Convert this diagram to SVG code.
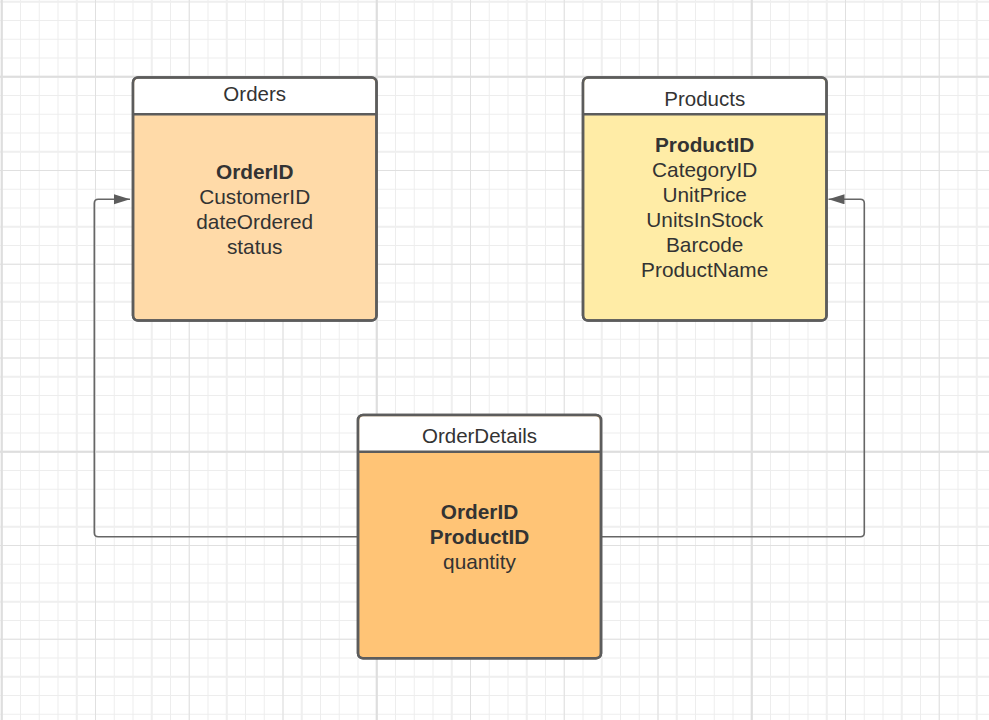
<svg xmlns="http://www.w3.org/2000/svg" width="989" height="720" viewBox="0 0 989 720">
  <style>
    .box { stroke: #5c5c5c; stroke-width: 2.5; }
    .div { stroke: #5c5c5c; stroke-width: 2.5; fill: none; }
    .hdr { fill: #ffffff; }
    text { font-family: "Liberation Sans", Arial, sans-serif; font-size: 20.8px; fill: #333333; text-anchor: middle; }
    .h { font-size: 20.5px; }
    .b { font-weight: bold; }
    .conn { fill: none; stroke: #666666; stroke-width: 1.6; }
  </style>
  <defs>
    <pattern id="gMinor" patternUnits="userSpaceOnUse" x="1.25" y="1.25" width="18.75" height="18.75">
      <rect width="18.75" height="1" fill="#ededed"/>
      <rect width="1" height="18.75" fill="#ededed"/>
    </pattern>
    <pattern id="g75" patternUnits="userSpaceOnUse" x="0.75" y="0.75" width="75" height="75">
      <rect width="75" height="2" fill="#efefef"/>
      <rect width="2" height="75" fill="#efefef"/>
    </pattern>
    <pattern id="g94" patternUnits="userSpaceOnUse" x="1.25" y="76.25" width="93.75" height="93.75">
      <rect width="93.75" height="1" fill="#e0e0e0"/>
      <rect width="1" height="93.75" fill="#e0e0e0"/>
    </pattern>
    <pattern id="g375" patternUnits="userSpaceOnUse" x="0.75" y="75.75" width="375" height="375">
      <rect width="375" height="2" fill="#dedede"/>
      <rect width="2" height="375" fill="#dedede"/>
    </pattern>
    <marker id="arrow" markerUnits="userSpaceOnUse" markerWidth="17" markerHeight="11" refX="16" refY="5" orient="auto">
      <path d="M0 0 L16 5 L0 10 Z" fill="#5c5c5c"/>
    </marker>
  </defs>

  <g id="grid">
    <rect width="989" height="720" fill="#ffffff"/>
    <rect width="989" height="720" fill="url(#gMinor)"/>
    <rect width="989" height="720" fill="url(#g75)"/>
    <rect width="989" height="720" fill="url(#g94)"/>
    <rect width="989" height="720" fill="url(#g375)"/>
  </g>

  <g id="connectors">
    <path class="conn" d="M357 536.7 H98.3 Q94.3 536.7 94.3 532.7 V203.3 Q94.3 199.3 98.3 199.3 H130" marker-end="url(#arrow)"/>
    <path class="conn" d="M601 536.7 H860.3 Q864.3 536.7 864.3 532.7 V203.3 Q864.3 199.3 860.3 199.3 H828.5" marker-end="url(#arrow)"/>
  </g>

  <g id="orders">
    <rect class="box" x="133" y="77.5" width="243.5" height="243" rx="5" fill="#ffdaa8"/>
    <path class="hdr" d="M134.25 114.3 V83.5 Q134.25 78.75 139 78.75 H370.5 Q375.25 78.75 375.25 83.5 V114.3 Z"/>
    <line class="div" x1="133" y1="114.3" x2="376.5" y2="114.3"/>
    <rect class="box" x="133" y="77.5" width="243.5" height="243" rx="5" fill="none"/>
    <text class="h" x="254.7" y="101">Orders</text>
    <text class="b" x="254.7" y="179">OrderID</text>
    <text x="254.7" y="204">CustomerID</text>
    <text x="254.7" y="229">dateOrdered</text>
    <text x="254.7" y="254">status</text>
  </g>

  <g id="products">
    <rect class="box" x="583" y="77.5" width="243.5" height="243" rx="5" fill="#ffeca6"/>
    <path class="hdr" d="M584.25 114.3 V83.5 Q584.25 78.75 589 78.75 H820.5 Q825.25 78.75 825.25 83.5 V114.3 Z"/>
    <line class="div" x1="583" y1="114.3" x2="826.5" y2="114.3"/>
    <rect class="box" x="583" y="77.5" width="243.5" height="243" rx="5" fill="none"/>
    <text class="h" x="704.7" y="105.7">Products</text>
    <text class="b" x="704.7" y="151.7">ProductID</text>
    <text x="704.7" y="176.7">CategoryID</text>
    <text x="704.7" y="201.7">UnitPrice</text>
    <text x="704.7" y="226.7">UnitsInStock</text>
    <text x="704.7" y="251.7">Barcode</text>
    <text x="704.7" y="276.7">ProductName</text>
  </g>

  <g id="orderdetails">
    <rect class="box" x="358" y="415" width="243" height="243.3" rx="5" fill="#ffc476"/>
    <path class="hdr" d="M359.25 451.7 V421 Q359.25 416.25 364 416.25 H595 Q599.75 416.25 599.75 421 V451.7 Z"/>
    <line class="div" x1="358" y1="451.7" x2="601" y2="451.7"/>
    <rect class="box" x="358" y="415" width="243" height="243.3" rx="5" fill="none"/>
    <text class="h" x="479.5" y="442.7">OrderDetails</text>
    <text class="b" x="479.5" y="519">OrderID</text>
    <text class="b" x="479.5" y="544">ProductID</text>
    <text x="479.5" y="569">quantity</text>
  </g>
</svg>
